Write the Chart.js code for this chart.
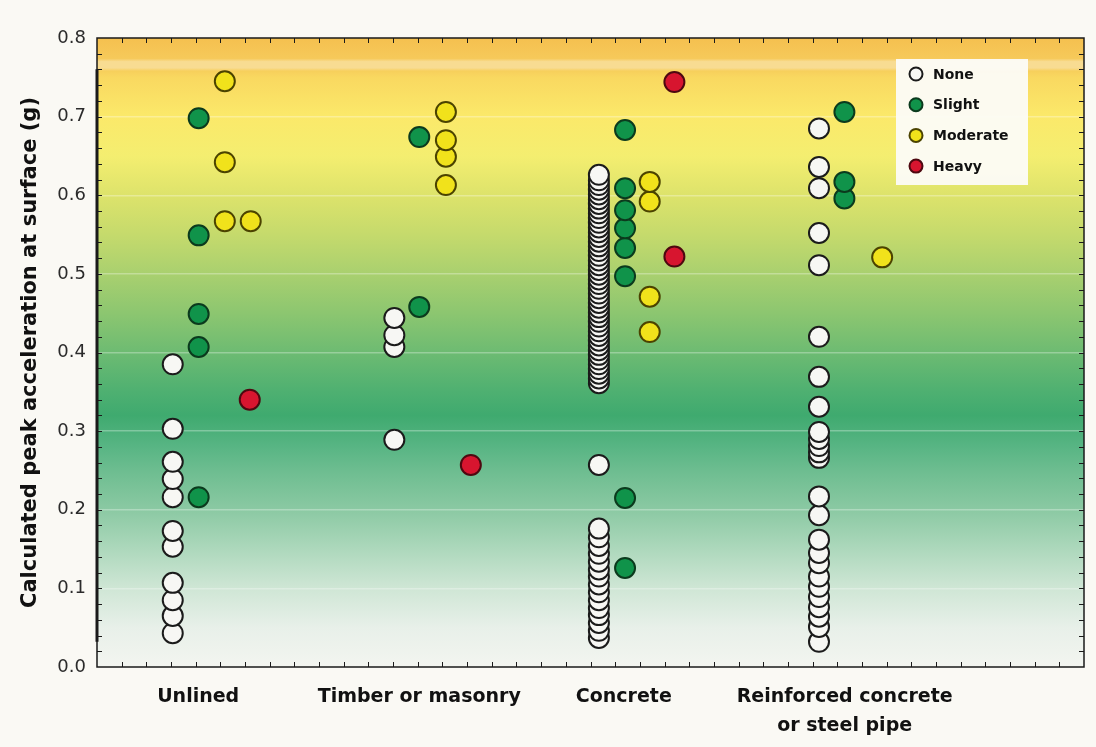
<!DOCTYPE html>
<html>
<head>
<meta charset="utf-8">
<title>Peak acceleration and tunnel damage</title>
<script src="https://cdn.jsdelivr.net/npm/chart.js@4.4.1/dist/chart.umd.min.js"></script>
<style>
  html, body { margin: 0; padding: 0; background: #faf9f4; }
</style>
</head>
<body>
<canvas id="myChart" width="1096" height="747"></canvas>
<script>
// tunnel lining types, centred on the x axis (0-40 units)
const categories = ["Unlined", "Timber or masonry", "Concrete", ["Reinforced concrete", "or steel pipe"]];
const categoryX = [4.1, 13.06, 21.35, 30.3];
const yTicks = [0, 0.1, 0.2, 0.3, 0.4, 0.5, 0.6, 0.7, 0.8];

const severities = ["None", "Slight", "Moderate", "Heavy"];

// [column x, peak accelerations (g)]
const noneCols = [
  [3.07, [0.043, 0.065, 0.085, 0.107, 0.153, 0.173, 0.216, 0.239, 0.261, 0.303, 0.385]],
  [12.05, [0.289, 0.407, 0.422, 0.444]],
  [20.34, [0.037, 0.046, 0.056, 0.066, 0.075, 0.085, 0.095, 0.105, 0.115, 0.124, 0.134, 0.144, 0.154, 0.165, 0.176,
           0.257,
           0.361, 0.367, 0.373, 0.379, 0.385, 0.391, 0.397, 0.403, 0.409, 0.415, 0.421, 0.427, 0.433, 0.439, 0.445,
           0.451, 0.457, 0.463, 0.469, 0.475, 0.481, 0.487, 0.493, 0.499, 0.505, 0.511, 0.517, 0.523, 0.529, 0.535,
           0.541, 0.547, 0.553, 0.559, 0.565, 0.571, 0.577, 0.583, 0.589, 0.595, 0.601, 0.607, 0.613, 0.619, 0.626]],
  [29.26, [0.032, 0.051, 0.064, 0.076, 0.089, 0.102, 0.115, 0.132, 0.145, 0.162, 0.193, 0.217,
           0.266, 0.273, 0.281, 0.290, 0.299, 0.331, 0.369, 0.420, 0.511, 0.552, 0.609, 0.636, 0.685]]
];
const slightCols = [
  [4.12, [0.216, 0.407, 0.449, 0.549, 0.698]],
  [13.06, [0.458, 0.674]],
  [21.4, [0.126, 0.215, 0.497, 0.533, 0.558, 0.581, 0.609, 0.683]],
  [30.29, [0.596, 0.617, 0.706]]
];
const moderateCols = [
  [5.18, [0.567, 0.642, 0.745]],
  [6.23, [0.567]],
  [14.14, [0.613, 0.649, 0.670, 0.706]],
  [22.4, [0.426, 0.471, 0.592, 0.617]],
  [31.82, [0.521]]
];
const heavyCols = [
  [6.19, [0.340]],
  [15.15, [0.257]],
  [23.4, [0.522, 0.744]]
];

const fillColors = ["#f7f7f4", "#10934a", "#f1e21b", "#d7152f"];
const edgeColors = ["#1b1b1b", "#0b3a1d", "#4b4300", "#4e0810"];

// colour bands behind the points, by acceleration value
const bgStops = [
  [0.00, "#f3f5f0"], [0.05, "#e8f0e9"], [0.10, "#cfe6d5"], [0.15, "#add8bc"], [0.20, "#8bc9a3"],
  [0.25, "#6dbd90"], [0.28, "#58b584"], [0.32, "#3faa6f"], [0.35, "#4eb071"], [0.40, "#6dbb72"],
  [0.45, "#8cc670"], [0.50, "#a9d06f"], [0.55, "#c5da6c"], [0.60, "#dde36b"], [0.65, "#f4ee70"],
  [0.70, "#fbe96a"], [0.75, "#f9d860"], [0.758, "#f7cf5c"], [0.762, "#f8dc92"], [0.770, "#f8dc92"],
  [0.774, "#f6c95a"], [0.80, "#f5c04f"]
];

function toPoints(cols) {
  const pts = [];
  cols.forEach(([x, ys]) => ys.forEach(y => pts.push({ x, y })));
  // lower circles first so the higher ones overlap them
  return pts.sort((a, b) => a.y - b.y);
}

const plotBackground = {
  id: "plotBackground",
  beforeDraw(chart) {
    const { ctx, chartArea: a, scales: { y } } = chart;
    const g = ctx.createLinearGradient(0, y.getPixelForValue(0), 0, y.getPixelForValue(0.8));
    bgStops.forEach(([v, c]) => g.addColorStop(v / 0.8, c));
    ctx.save();
    ctx.fillStyle = g;
    ctx.fillRect(a.left, a.top, a.right - a.left, a.bottom - a.top);
    ctx.restore();
  }
};

const frame = {
  id: "frame",
  afterDatasetsDraw(chart) {
    const { ctx, chartArea: a, scales: { x, y } } = chart;
    ctx.save();
    ctx.strokeStyle = "#1a1a1a";
    ctx.lineWidth = 1;
    ctx.beginPath();
    for (let v = 1; v < 40; v++) {
      const px = Math.round(x.getPixelForValue(v)) + 0.5;
      ctx.moveTo(px, a.bottom); ctx.lineTo(px, a.bottom - 5);
      ctx.moveTo(px, a.top); ctx.lineTo(px, a.top + 5);
    }
    for (let k = 1; k < 40; k++) {
      const py = Math.round(y.getPixelForValue(k * 0.02)) + 0.5;
      ctx.moveTo(a.left, py); ctx.lineTo(a.left + 5, py);
      ctx.moveTo(a.right, py); ctx.lineTo(a.right - 5, py);
    }
    ctx.stroke();
    ctx.lineWidth = 1.5;
    ctx.strokeRect(a.left, a.top, a.right - a.left, a.bottom - a.top);
    // heavier spine over the span of the data
    const ys = chart.data.datasets.flatMap(d => d.data.map(p => p.y));
    ctx.lineWidth = 3;
    ctx.beginPath();
    ctx.moveTo(a.left, y.getPixelForValue(Math.min(...ys)));
    ctx.lineTo(a.left, y.getPixelForValue(Math.max(...ys)) - 12);
    ctx.stroke();
    ctx.restore();
  }
};

const legendBox = {
  id: "legendBox",
  afterDraw(chart) {
    const { ctx, chartArea: a } = chart;
    const left = a.right - 188, top = a.top + 21;
    ctx.save();
    ctx.fillStyle = "rgba(252,251,246,0.96)";
    ctx.fillRect(left, top, 132, 126);
    ctx.font = "bold 14px 'DejaVu Sans'";
    ctx.textBaseline = "middle";
    chart.data.datasets.forEach((ds, i) => {
      const cy = top + 15 + i * 30.7;
      ctx.beginPath();
      ctx.arc(left + 20, cy, 6.5, 0, Math.PI * 2);
      ctx.fillStyle = ds.backgroundColor;
      ctx.fill();
      ctx.lineWidth = 2;
      ctx.strokeStyle = ds.borderColor;
      ctx.stroke();
      ctx.fillStyle = "#111";
      ctx.fillText(ds.label, left + 37, cy + 1);
    });
    ctx.restore();
  }
};

const datasets = [noneCols, slightCols, moderateCols, heavyCols].map((cols, i) => ({
  label: severities[i],
  data: toPoints(cols),
  backgroundColor: fillColors[i],
  borderColor: edgeColors[i],
  pointRadius: 10,
  pointHoverRadius: 10,
  pointBorderWidth: 2
}));

new Chart(document.querySelector("#myChart"), {
  type: "scatter",
  data: { datasets },
  options: {
    responsive: false,
    animation: false,
    layout: { padding: { left: 0, right: 10, top: 38, bottom: 0 } },
    plugins: { legend: { display: false }, tooltip: { enabled: false } },
    scales: {
      x: {
        type: "linear",
        min: 0,
        max: 40,
        afterBuildTicks: s => { s.ticks = categoryX.map(v => ({ value: v })); },
        afterFit: s => { s.height = 80; },
        grid: { display: false, drawTicks: false },
        border: { display: false },
        ticks: {
          autoSkip: false,
          maxRotation: 0,
          padding: 15,
          color: "#111",
          font: { family: "DejaVu Sans", weight: "bold", size: 19, lineHeight: 1.55 },
          callback: (v, i) => categories[i]
        }
      },
      y: {
        min: 0,
        max: 0.8,
        afterBuildTicks: s => { s.ticks = yTicks.map(v => ({ value: v })); },
        afterFit: s => { s.width = 97; },
        grid: {
          drawTicks: false,
          lineWidth: 1.5,
          color: c => (c.tick && c.tick.value > 0.05 && c.tick.value < 0.75) ? "rgba(255,255,255,0.3)" : "rgba(0,0,0,0)"
        },
        border: { display: false },
        ticks: {
          padding: 11,
          color: "#2b2b2b",
          font: { family: "DejaVu Sans", size: 18 },
          callback: v => v.toFixed(1)
        },
        title: {
          display: true,
          text: "Calculated peak acceleration at surface (g)",
          color: "#111",
          font: { family: "DejaVu Sans", weight: "bold", size: 21 },
          padding: { top: 18, bottom: 0 }
        }
      }
    }
  },
  plugins: [plotBackground, frame, legendBox]
});
</script>
</body>
</html>
